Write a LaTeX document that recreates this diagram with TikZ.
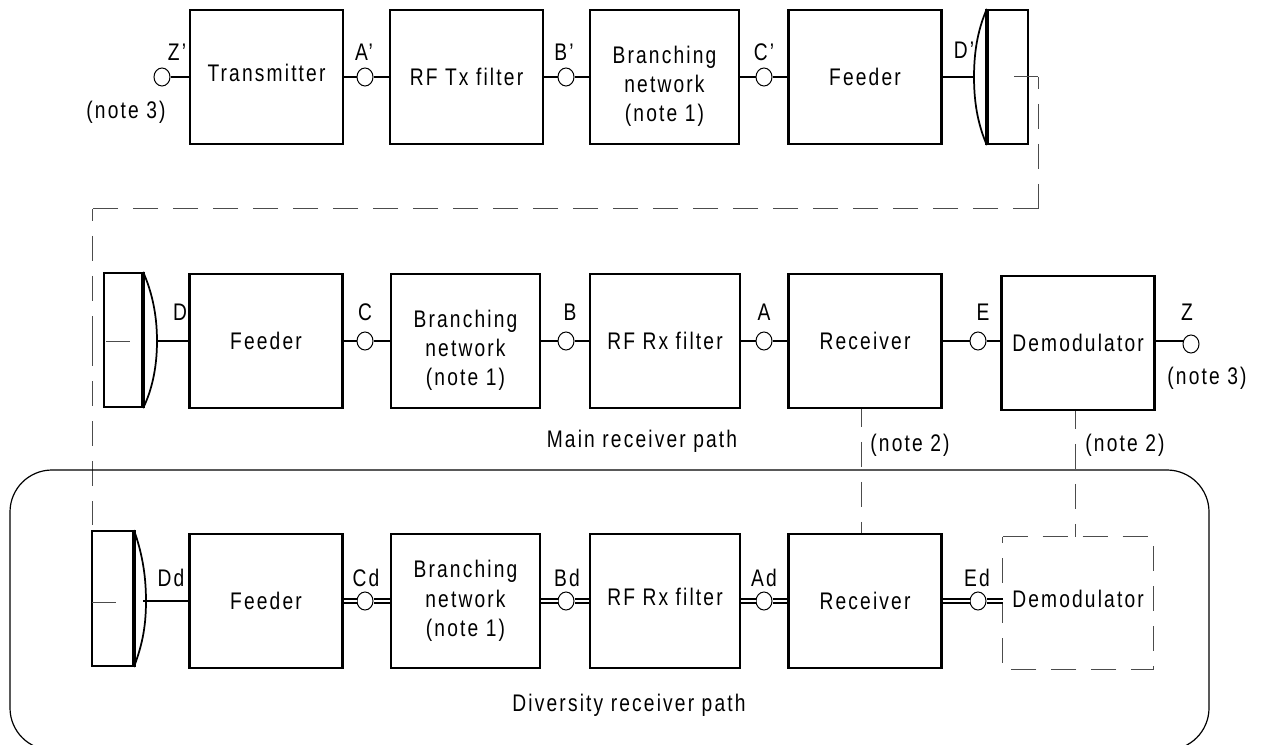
\documentclass[tikz,border=0pt]{standalone}
\usepackage{fontspec}
\setmainfont[LetterSpace=9, FakeStretch=0.8]{Liberation Sans}
\usetikzlibrary{shapes.geometric}
\newcommand{\brtext}{\rule{0pt}{27pt}Branching\\network\\(note 1)}

\begin{document}
\begin{tikzpicture}[
      x=0.75pt, y=-0.75pt,
      every node/.style={font=\fontsize{18}{22}\selectfont, inner sep=0pt},
      block/.style={rectangle, draw, line width=1.7pt, minimum height=100.5pt, align=center},
      wideblock/.style={block, minimum width=114.75pt},
      narrowblock/.style={block, minimum width=112pt},
      port/.style={ellipse, draw, fill=white, line width=0.75pt, minimum width=12pt, minimum height=13.5pt},
      link/.style={line width=1.5pt},
      doublelink/.style={line width=1.5pt, double, double distance=1pt},
      lens/.style={line width=1.3pt},
      bar/.style={line width=2.8pt},
      dashlink/.style={line width=0.75pt, black!70, dash pattern=on 18.75pt off 11.25pt},
      thinlink/.style={line width=0.75pt, black!70}
    ]
    \clip (0,0) rectangle (1263,745);
    \useasboundingbox (0,0) rectangle (1263,745);

    % Transmit path:
    \node[port] (Zt) at (162,77) {};
    \node[wideblock, text depth=6pt] (Tx) at (266.5,77) {Transmitter};
    \node[port] (At) at (365,77) {};
    \node[wideblock] (RFTx) at (466.5,77) {RF Tx filter};
    \node[port] (Bt) at (566,77) {};
    \node[narrowblock] (BrT) at (664.5,77) {\brtext};
    \node[port] (Ct) at (764,77) {};
    \node[wideblock] (FdT) at (865,77) {Feeder};
    \node[rectangle, draw, line width=1.7pt, minimum width=30pt, minimum height=100.5pt] (AntT) at (1008,77) {};
    \coordinate (LensT) at (974,77);
    \draw[lens] (AntT.north west) .. controls (979,27) and (974,48) .. (LensT)
      .. controls (974,106) and (979,127) .. (AntT.south west);
    \draw[bar] (AntT.north west) -- (AntT.south west);
    \draw[link] (Zt) -- (Tx);
    \draw[link] (Tx) -- (At);
    \draw[link] (At) -- (RFTx);
    \draw[link] (RFTx) -- (Bt);
    \draw[link] (Bt) -- (BrT);
    \draw[link] (BrT) -- (Ct);
    \draw[link] (Ct) -- (FdT);
    \draw[link] (FdT) -- (LensT);
    \node (lZt) at (177,52) {Z'};
    \node (lNt) at (126,112) {(note 3)};
    \node (lAt) at (364,52) {A'};
    \node (lBt) at (564,52) {B'};
    \node (lCt) at (764,52) {C'};
    \node (lDt) at (964,50) {D'};

    % Link between the antennas:
    \coordinate (HopA) at (1014,77);
    \coordinate (HopB) at (1038,77);
    \coordinate (HopC) at (1038,209);
    \coordinate (HopD) at (92,209);
    \coordinate (HopE) at (92,341);
    \coordinate (HopF) at (92,525);
    \draw[thinlink] (HopA) -- (HopB);
    \draw[dashlink, dash phase=9.75pt] (HopB) -- (HopC);
    \draw[dashlink] (HopC) -- (HopD);
    \draw[dashlink, dash phase=9.75pt] (HopD) -- (HopE);
    \draw[dashlink] (HopE) -- (HopF);

    % Main receiver path:
    \node[rectangle, draw, line width=1.7pt, minimum width=28.5pt, minimum height=100.5pt] (AntM) at (123,340) {};
    \coordinate (LensM) at (157,341);
    \draw[lens] (AntM.north east) .. controls (151,290) and (157,312) .. (LensM)
      .. controls (157,370) and (151,392) .. (AntM.south east);
    \draw[bar] (AntM.north east) -- (AntM.south east);
    \coordinate (StubMa) at (106,341);
    \coordinate (StubMb) at (130,341);
    \draw[thinlink] (StubMa) -- (StubMb);
    \node[wideblock] (FdM) at (266,341) {Feeder};
    \node[port] (Cm) at (365,341) {};
    \node[narrowblock] (BrM) at (465.5,341) {\brtext};
    \node[port] (Bm) at (566,341) {};
    \node[narrowblock] (RFM) at (665,341) {RF Rx filter};
    \node[port] (Am) at (764,341) {};
    \node[wideblock] (RxM) at (865,341) {Receiver};
    \node[port] (Em) at (978,341) {};
    \node[wideblock] (Dem) at (1078,343) {Demodulator};
    \node[port] (Zm) at (1191,344) {};
    \draw[link] (LensM) -- (FdM);
    \draw[link] (FdM) -- (Cm);
    \draw[link] (Cm) -- (BrM);
    \draw[link] (BrM) -- (Bm);
    \draw[link] (Bm) -- (RFM);
    \draw[link] (RFM) -- (Am);
    \draw[link] (Am) -- (RxM);
    \draw[link] (RxM) -- (Em);
    \draw[link] (Em) -- (Em -| Dem.west);
    \draw[link] (Dem.east |- Em) -- (Zm.west |- Em);
    \node (lDm) at (180,312) {D};
    \node (lCm) at (365,312) {C};
    \node (lBm) at (570,312) {B};
    \node (lAm) at (764,312) {A};
    \node (lEm) at (983,312) {E};
    \node (lZm) at (1187,312) {Z};
    \node (lNm) at (1207,378) {(note 3)};
    \node (lPm) at (642,441) {Main receiver path};
    \node (lNa) at (910,445) {(note 2)};
    \node (lNb) at (1125,445) {(note 2)};

    % Diversity receiver path:
    \node[rectangle, draw=black, rounded corners=31.5pt, line width=0.9pt, minimum width=899.25pt, minimum height=210pt] (DivBox) at (609.5,610) {};
    \node[rectangle, draw, line width=1.7pt, minimum width=30.5pt, minimum height=101pt] (AntD) at (112.5,598.5) {};
    \coordinate (LensD) at (143,601);
    \draw[lens] (AntD.north east) .. controls (141,550) and (146,572) .. (146,601)
      .. controls (146,630) and (141,648) .. (AntD.south east);
    \draw[bar] (AntD.north east) -- (AntD.south east);
    \coordinate (StubDa) at (92,602);
    \coordinate (StubDb) at (116,602);
    \draw[thinlink] (StubDa) -- (StubDb);
    \node[wideblock] (FdD) at (266,601) {Feeder};
    \node[port] (Cd) at (365,601) {};
    \node[narrowblock] (BrD) at (465.5,601) {Branching\\network\\(note 1)};
    \node[port] (Bd) at (566,601) {};
    \node[narrowblock, text depth=7pt] (RFD) at (665,601) {RF Rx filter};
    \node[port] (Ad) at (764,601) {};
    \node[wideblock] (RxD) at (865,601) {Receiver};
    \node[port] (Ed) at (978,601) {};
    \node[minimum width=112.5pt, minimum height=99pt, text depth=6pt] (DemD) at (1078,603) {Demodulator};
    \draw[dashlink] (DemD.north west) -- (DemD.north east) -- (DemD.south east) -- (DemD.south west) -- cycle;
    \draw[link] (LensD) -- (FdD);
    \draw[doublelink] (FdD) -- (Cd);
    \draw[doublelink] (Cd) -- (BrD);
    \draw[doublelink] (BrD) -- (Bd);
    \draw[doublelink] (Bd) -- (RFD);
    \draw[doublelink] (RFD) -- (Ad);
    \draw[doublelink] (Ad) -- (RxD);
    \draw[doublelink] (RxD) -- (Ed);
    \draw[doublelink] (Ed) -- (Ed -| DemD.west);
    \node (lDd) at (171,578) {Dd};
    \node (lCd) at (366,578) {Cd};
    \node (lBd) at (567,578) {Bd};
    \node (lAd) at (764,578) {Ad};
    \node (lEd) at (977,578) {Ed};
    \node (lPd) at (629,705) {Diversity receiver path};

    % Links to the diversity equipment:
    \draw[dashlink, dash phase=5.5pt] ([xshift=-3pt]RxM.south) -- ([xshift=-3pt]RxD.north);
    \draw[dashlink, dash phase=5.5pt] ([xshift=-2.25pt]Dem.south) -- ([xshift=-2.25pt]DemD.north);
\end{tikzpicture}
\end{document}
